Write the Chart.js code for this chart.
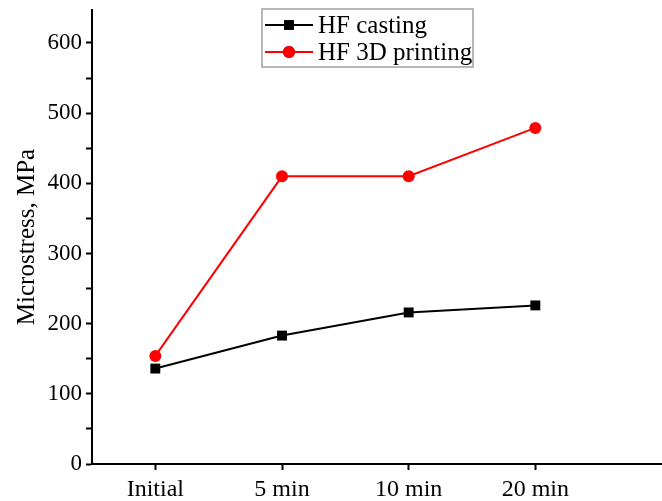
<!DOCTYPE html>
<html>
<head>
<meta charset="utf-8">
<script src="https://cdn.jsdelivr.net/npm/chart.js@4/dist/chart.umd.min.js"></script>
<style>
  html, body { margin: 0; padding: 0; background: #fff; }
  #wrap { width: 662px; height: 501px; position: relative; }
</style>
</head>
<body>
<div id="wrap"><canvas id="c"></canvas></div>
<script>
// categories and series
const categories = ['Initial', '5 min', '10 min', '20 min'];
const castingValues = [136, 183, 216, 226];
const printingValues = [154, 410, 410, 479];
const yTickValues = [0, 50, 100, 150, 200, 250, 300, 350, 400, 450, 500, 550, 600];

const FONT = '"Liberation Serif", "Times New Roman", serif';

// legend drawn by hand (line + marker + text inside a grey box)
const boxLegend = {
  id: 'boxLegend',
  afterDraw(chart) {
    const ctx = chart.ctx;
    const x0 = 262, y0 = 9, w = 211, h = 58;
    ctx.save();
    ctx.fillStyle = '#fff';
    ctx.fillRect(x0, y0, w, h);
    ctx.strokeStyle = '#a0a0a0';
    ctx.lineWidth = 1.5;
    ctx.strokeRect(x0, y0, w, h);
    chart.data.datasets.forEach((ds, i) => {
      const y = y0 + 16 + i * 27;
      ctx.strokeStyle = ds.borderColor;
      ctx.lineWidth = 2;
      ctx.beginPath();
      ctx.moveTo(x0 + 3, y);
      ctx.lineTo(x0 + 51, y);
      ctx.stroke();
      Chart.helpers.drawPoint(ctx, {
        pointStyle: ds.pointStyle, radius: ds.pointRadius, borderWidth: 0
      }, x0 + 27, y);
      ctx.fillStyle = ds.pointBackgroundColor;
      ctx.fill();
      ctx.fillStyle = '#000';
      ctx.font = '25px ' + FONT;
      ctx.textBaseline = 'middle';
      ctx.fillText(ds.label, x0 + 56, y + 1);
    });
    ctx.restore();
  }
};

new Chart(document.getElementById('c'), {
  type: 'line',
  data: {
    datasets: [{
      label: 'HF casting',
      data: castingValues.map((v, i) => ({ x: i, y: v })),
      borderColor: '#000',
      backgroundColor: '#000',
      pointBackgroundColor: '#000',
      pointBorderColor: '#000',
      pointStyle: 'rect',
      pointRadius: 7,
      pointBorderWidth: 0,
      borderWidth: 2,
      tension: 0
    }, {
      label: 'HF 3D printing',
      data: printingValues.map((v, i) => ({ x: i, y: v })),
      borderColor: '#ff0000',
      backgroundColor: '#ff0000',
      pointBackgroundColor: '#ff0000',
      pointBorderColor: '#ff0000',
      pointStyle: 'circle',
      pointRadius: 6,
      pointBorderWidth: 0,
      borderWidth: 2,
      tension: 0
    }]
  },
  options: {
    responsive: true,
    maintainAspectRatio: false,
    animation: false,
    layout: { autoPadding: false, padding: { top: 10, right: 0, left: 0, bottom: 0 } },
    plugins: { legend: { display: false }, tooltip: { enabled: false } },
    scales: {
      x: {
        type: 'linear',
        min: -0.5,
        max: 4.0,
        afterBuildTicks: s => { s.ticks = categories.map((c, i) => ({ value: i })); },
        afterFit: s => { s.height = 37; s.paddingLeft = 0; s.paddingRight = 0; },
        border: { color: '#000', width: 2 },
        grid: { drawOnChartArea: false, tickLength: 6, tickWidth: 2, tickColor: '#000' },
        ticks: {
          color: '#000',
          font: { family: FONT, size: 24 },
          padding: 5,
          maxRotation: 0,
          callback: v => categories[v] ?? ''
        }
      },
      y: {
        min: 0,
        max: 647,
        afterBuildTicks: s => { s.ticks = yTickValues.map(v => ({ value: v })); },
        afterFit: s => { s.width = 92; s.paddingTop = 0; s.paddingBottom = 0; },
        border: { color: '#000', width: 2 },
        grid: { drawOnChartArea: false, tickLength: 6, tickWidth: 2, tickColor: '#000' },
        title: {
          display: true,
          text: 'Microstress, MPa',
          color: '#000',
          font: { family: FONT, size: 25 },
          padding: { top: 12, bottom: 2 }
        },
        ticks: {
          color: '#000',
          font: { family: FONT, size: 23 },
          padding: 4,
          callback: v => (v % 100 === 0 ? String(v) : '')
        }
      }
    }
  },
  plugins: [boxLegend]
});
</script>
</body>
</html>
